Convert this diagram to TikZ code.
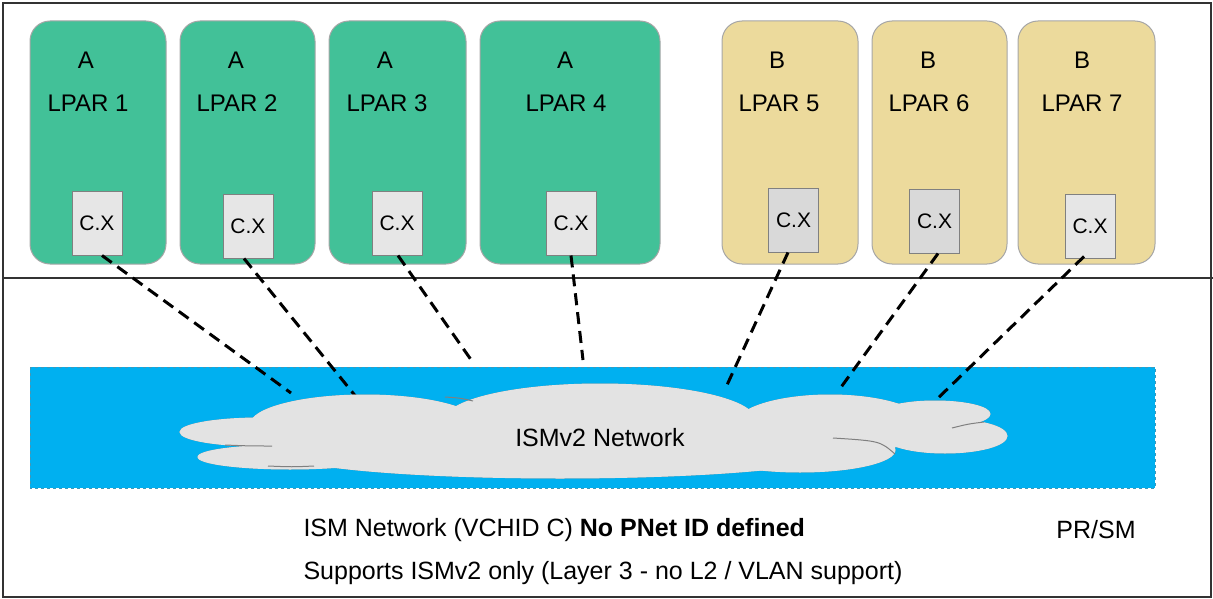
\documentclass[tikz,border=0pt]{standalone}
\usepackage{fontspec}
\setmainfont{Liberation Sans}

\definecolor{lpargreen}{RGB}{66,193,152}
\definecolor{lparsand}{RGB}{236,218,156}
\definecolor{ismblue}{RGB}{0,176,240}
\definecolor{cloudgray}{RGB}{227,227,227}
\definecolor{cxlight}{RGB}{230,230,230}
\definecolor{cxdark}{RGB}{217,217,217}

\tikzset{
  lpar/.style={draw=gray!70, rounded corners=20pt, line width=1pt},
  cxbox/.style={draw=gray, line width=1pt, inner sep=0pt, minimum width=50pt, minimum height=64pt, font=\fontsize{21}{25}\selectfont},
  lbl/.style={font=\fontsize{24}{28}\selectfont},
  txt/.style={font=\fontsize{25}{30}\selectfont},
  link/.style={dash pattern=on 12pt off 7pt, line width=3pt},
  lobe/.style={fill=cloudgray, line width=1pt},
  crease/.style={draw=gray, line width=1pt},
}

\begin{document}
\begin{tikzpicture}[x=1pt,y=-1pt]
        \useasboundingbox (0,0) rectangle (1213,599);
        \draw [line width=1.5pt, black!80] (3,3) rectangle (1211,597);
        \draw [line width=1.5pt, black!80] (3,278) -- (1213,278);

        % LPARs
        \draw [lpar, fill=lpargreen] (30,21) rectangle (166,264);
        \draw [lpar, fill=lpargreen] (180,21) rectangle (315,264);
        \draw [lpar, fill=lpargreen] (329,21) rectangle (466,264);
        \draw [lpar, fill=lpargreen] (480,21) rectangle (660,264);
        \draw [lpar, fill=lparsand] (722,21) rectangle (858,264);
        \draw [lpar, fill=lparsand] (872,21) rectangle (1007,264);
        \draw [lpar, fill=lparsand] (1018,21) rectangle (1155,264);

        \node [lbl] (g1) at (86,60) {A};
        \node [lbl] (n1) at (88,103) {LPAR 1};
        \node [lbl] (g2) at (236,60) {A};
        \node [lbl] (n2) at (237,103) {LPAR 2};
        \node [lbl] (g3) at (385,60) {A};
        \node [lbl] (n3) at (387,103) {LPAR 3};
        \node [lbl] (g4) at (565,60) {A};
        \node [lbl] (n4) at (566,103) {LPAR 4};
        \node [lbl] (g5) at (777,60) {B};
        \node [lbl] (n5) at (779,103) {LPAR 5};
        \node [lbl] (g6) at (928,60) {B};
        \node [lbl] (n6) at (929,103) {LPAR 6};
        \node [lbl] (g7) at (1082,60) {B};
        \node [lbl] (n7) at (1082,103) {LPAR 7};

        \node [cxbox, fill=cxlight] (cx1) at (97,223) {C.X};
        \node [cxbox, fill=cxlight] (cx2) at (248,226) {C.X};
        \node [cxbox, fill=cxlight] (cx3) at (397,223) {C.X};
        \node [cxbox, fill=cxlight] (cx4) at (571,223) {C.X};
        \node [cxbox, fill=cxdark] (cx5) at (793.5,220) {C.X};
        \node [cxbox, fill=cxdark] (cx6) at (934.5,221) {C.X};
        \node [cxbox, fill=cxlight] (cx7) at (1090,226) {C.X};

        % ISM network
        \draw [ismblue!50!gray, dashed, fill=ismblue] (30,367) rectangle (1155,488);

        \coordinate (e1) at (291,393);
        \coordinate (e2) at (357,398);
        \coordinate (e3) at (474,364);
        \coordinate (e4) at (583,360);
        \coordinate (e5) at (727,385);
        \coordinate (e6) at (839,390);
        \coordinate (e7) at (934,402);

        \draw [link] ([xshift=5pt]cx1.south) -- (e1);
        \draw [link] ([xshift=-4pt]cx2.south) -- (e2);
        \draw [link] ([xshift=1pt]cx3.south) -- (e3);
        \draw [link] (cx4.south) -- (e4);
        \draw [link] ([xshift=-5.5pt]cx5.south) -- (e5);
        \draw [link] ([xshift=3.5pt]cx6.south) -- (e6);
        \draw [link] ([xshift=-6pt,yshift=2pt]cx7.south) -- (e7);

        % cloud
        \foreach \pass/\edge in {1/gray, 2/cloudgray} {
          \draw [lobe, draw=\edge] (260,432) ellipse [x radius=80, y radius=14];
          \draw [lobe, draw=\edge] (290,457) ellipse [x radius=92, y radius=12];
          \draw [lobe, draw=\edge] (365,425) ellipse [x radius=115, y radius=30];
          \draw [lobe, draw=\edge] (600,420) ellipse [x radius=155, y radius=36];
          \draw [lobe, draw=\edge] (830,425) ellipse [x radius=95, y radius=30];
          \draw [lobe, draw=\edge] (935,414) ellipse [x radius=55, y radius=13];
          \draw [lobe, draw=\edge] (945,436) ellipse [x radius=62, y radius=17];
          \draw [lobe, draw=\edge] (560,452) ellipse [x radius=280, y radius=26];
          \draw [lobe, draw=\edge] (800,450) ellipse [x radius=95, y radius=22];
        }
        \draw [crease] (225,445) .. controls (250,446) .. (272,446);
        \draw [crease] (268,466) .. controls (292,467) .. (314,466);
        \draw [crease] (445,397) .. controls (460,398) .. (473,401);
        \draw [crease] (952,428) .. controls (968,424) .. (984,422);
        \draw [crease] (833,438) .. controls (880,441) .. (895,454);
        \node [txt] (net) at (600,438) {ISMv2 Network};

        \node [txt, anchor=west] (note) at (300,530) {ISM Network (VCHID C) \textbf{No PNet ID defined}};
        \node [txt, anchor=west] (scope) at (300,573) {Supports ISMv2 only (Layer 3 - no L2 / VLAN support)};
        \node [txt] (prsm) at (1096,530) {PR/SM};
    \end{tikzpicture}
\end{document}
